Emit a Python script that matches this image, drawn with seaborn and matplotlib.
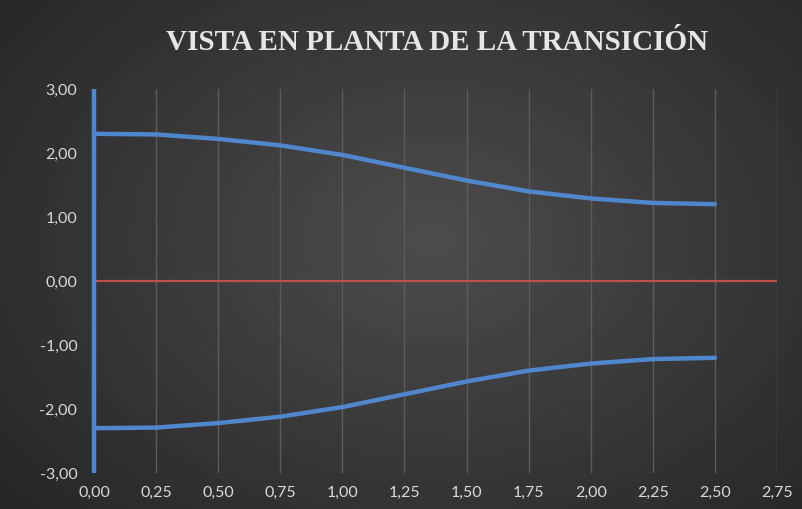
import numpy as np
import pandas as pd
import seaborn as sns
import matplotlib.pyplot as plt
from matplotlib.ticker import FuncFormatter, MultipleLocator

# Datos (vista en planta de la transicion)
x_borde = [0.0, 0.25, 0.50, 0.75, 1.00, 1.25, 1.50, 1.75, 2.00, 2.25, 2.50]
y_superior = [2.30, 2.29, 2.22, 2.12, 1.97, 1.77, 1.57, 1.40, 1.29, 1.22, 1.20]
y_inferior = [-2.30, -2.29, -2.22, -2.12, -1.97, -1.77, -1.57, -1.40, -1.29, -1.22, -1.20]
x_inicio = [0.0, 0.0]
y_inicio = [-3.0, 3.0]
x_eje = [0.0, 2.75]
y_eje = [0.0, 0.0]

sns.set_style("dark")
plt.rcParams['font.family'] = ['Lato', 'DejaVu Sans']

fig = plt.figure(figsize=(8.02, 5.09), dpi=100)

# fondo con degradado radial
bg = fig.add_axes([0, 0, 1, 1], zorder=-10)
yy, xx = np.mgrid[0:509, 0:802]
r = np.sqrt(((xx - 430) / 520.0) ** 2 + ((yy - 240) / 380.0) ** 2)
shade = np.clip(0.30 - 0.14 * r, 0.15, 0.30)
bg.imshow(shade, cmap="gray", vmin=0, vmax=1, aspect="auto")
bg.axis("off")

ax = fig.add_axes([94 / 802, 1 - 473 / 509, 683 / 802, 384 / 509])
ax.set_facecolor("none")

azul = "#4f86cc"
sns.lineplot(x=x_borde, y=y_superior, ax=ax, color=azul, linewidth=3.2, sort=False,
             estimator=None, solid_capstyle="round", zorder=3, clip_on=False)
sns.lineplot(x=x_borde, y=y_inferior, ax=ax, color=azul, linewidth=3.2, sort=False,
             estimator=None, solid_capstyle="round", zorder=3, clip_on=False)
sns.lineplot(x=x_inicio, y=y_inicio, ax=ax, color=azul, linewidth=3.2, sort=False,
             estimator=None, solid_capstyle="butt", zorder=4, clip_on=False)
sns.lineplot(x=x_eje, y=y_eje, ax=ax, color="#c0504d", linewidth=1.6, sort=False,
             estimator=None, zorder=2)

ax.set_xlim(0, 2.75)
ax.set_ylim(-3, 3)
ax.xaxis.set_major_locator(MultipleLocator(0.25))
ax.yaxis.set_major_locator(MultipleLocator(1.0))
fmt = FuncFormatter(lambda v, p: f"{v:.2f}".replace(".", ",").replace("-0,00", "0,00"))
ax.xaxis.set_major_formatter(fmt)
ax.yaxis.set_major_formatter(fmt)
ax.grid(axis="x", color="#5c5c5c", linewidth=1.0)
ax.grid(axis="y", visible=False)
ax.tick_params(colors="#d9d9d9", labelsize=11.5, length=0)
ax.tick_params(axis="x", pad=9)
ax.tick_params(axis="y", pad=12)
for s in ax.spines.values():
    s.set_visible(False)
ax.set_xlabel("")
ax.set_ylabel("")

fig.text(437 / 802, 1 - 42 / 509, "VISTA EN PLANTA DE LA TRANSICIÓN", ha="center", va="center",
         family="Liberation Serif", fontweight="bold", fontsize=21, color="#e6e6e6")

fig.savefig("out.png", dpi=100)
